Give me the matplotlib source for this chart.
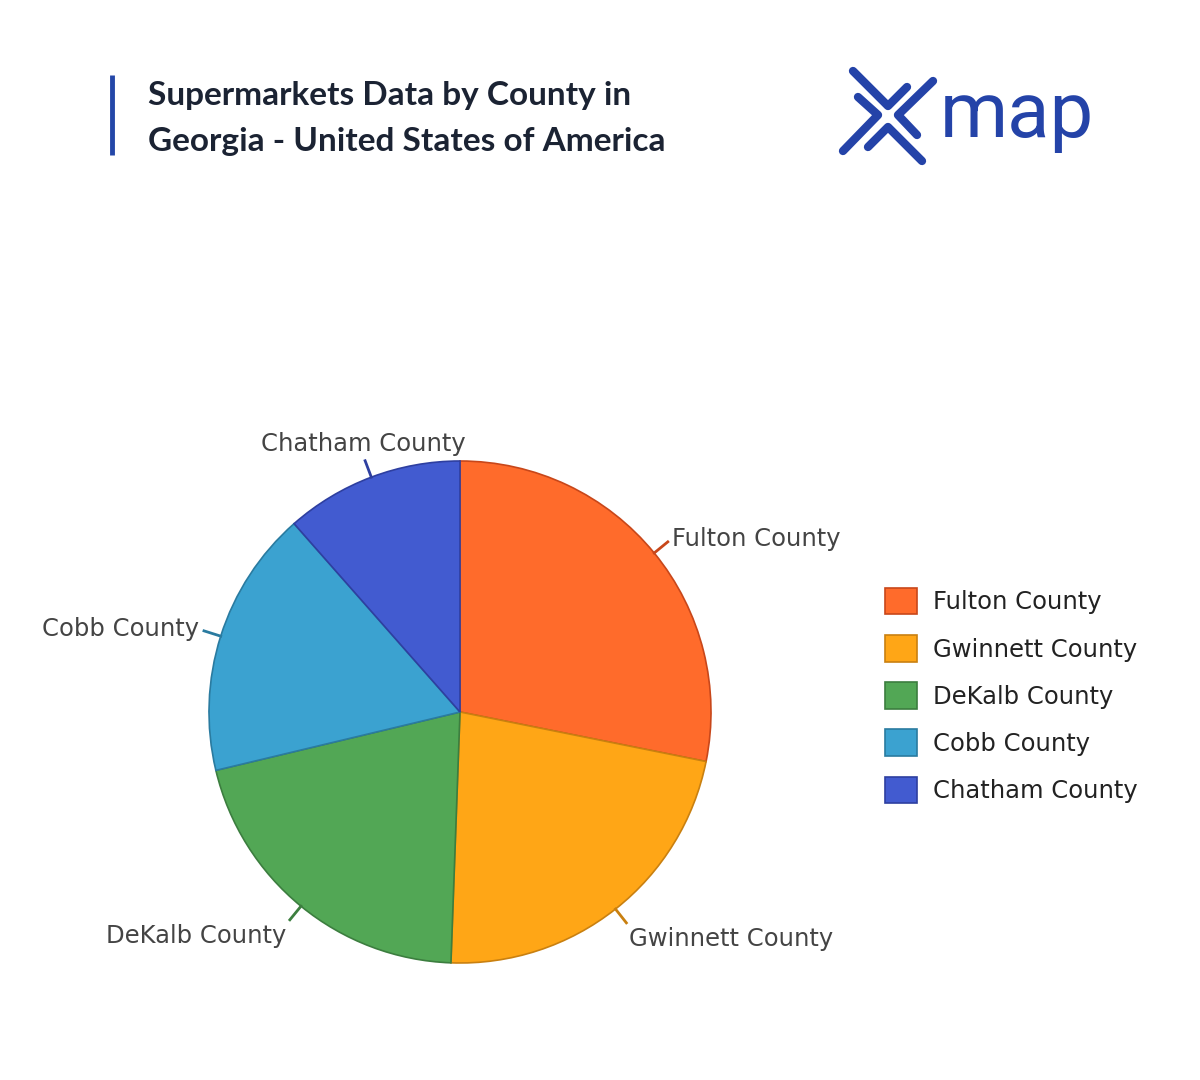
import numpy as np
import matplotlib
matplotlib.use("Agg")
import matplotlib.pyplot as plt
from matplotlib.patches import Patch

# data
counties = ["Fulton County", "Gwinnett County", "DeKalb County", "Cobb County", "Chatham County"]
supermarkets = [49, 39, 36, 30, 20]
colors = ["#FF6B2B", "#FFA616", "#52A755", "#3BA2D0", "#425BD0"]
edges = ["#C8471A", "#C98010", "#3C7E3F", "#2A7BA0", "#2E3FA0"]

title_lines = ["Supermarkets Data by County in", "Georgia - United States of America"]

W, H = 1200, 1080
fig = plt.figure(figsize=(W / 100, H / 100), dpi=100)
fig.patch.set_facecolor("white")

# pie axes: centre (460, 712) px, radius 251 px
cx, cy, r = 460, 712, 251
ax = fig.add_axes([(cx - r) / W, (H - cy - r) / H, 2 * r / W, 2 * r / H])

wedges, _ = ax.pie(supermarkets, colors=colors, startangle=90, counterclock=False,
                   radius=1, wedgeprops=dict(linewidth=1.2))
ax.set_xlim(-1, 1)
ax.set_ylim(-1, 1)
ax.axis("off")
for w, ec in zip(wedges, edges):
    w.set_edgecolor(ec)
    w.set_clip_on(False)

# outside labels with short tick lines
for w, name, ec in zip(wedges, counties, edges):
    ang = np.deg2rad((w.theta1 + w.theta2) / 2)
    c, s = np.cos(ang), np.sin(ang)
    ax.plot([c * 1.0, c * 1.07], [s * 1.0, s * 1.07], color=ec, lw=2, clip_on=False)
    ha = "left" if c > 0.4 else ("right" if c < -0.4 else "center")
    va = "bottom" if s > 0.7 else ("top" if s < -0.35 else "center")
    ax.text(c * 1.09, s * 1.09, name, ha=ha, va=va, fontsize=17.5,
            color="#444444", family="DejaVu Sans")

# legend
handles = [Patch(facecolor=fc, edgecolor=ec, linewidth=1.2) for fc, ec in zip(colors, edges)]
fig.legend(handles, counties, loc="upper left", bbox_to_anchor=(885 / W, 1 - 588 / H),
           frameon=False, fontsize=17.5, handlelength=1.3, handleheight=1.3,
           labelspacing=0.85, handletextpad=0.66, borderpad=0, borderaxespad=0,
           labelcolor="#222222")

# header: accent bar, title, logo
ov = fig.add_axes([0, 0, 1, 1], zorder=5)
ov.set_xlim(0, W)
ov.set_ylim(H, 0)
ov.axis("off")
ov.plot([112, 112], [75, 155], color="#2447A8", lw=3.5, solid_capstyle="butt")
for i, line in enumerate(title_lines):
    ov.text(148, 105 + 46 * i, line, fontsize=24, fontweight="bold", family="Lato",
            color="#1B2333", ha="left", va="baseline")

logo = "#2443A8"
strokes = [
    [(853, 71), (888, 106), (907, 87)],
    [(933, 81), (898, 115), (917, 135)],
    [(858, 97), (878, 115), (843, 151)],
    [(868, 147), (888, 127), (922, 161)],
]
for st in strokes:
    xs, ys = zip(*st)
    ov.plot(xs, ys, color=logo, lw=6, solid_capstyle="round", solid_joinstyle="round")
ov.text(940, 137, "map", fontsize=56, family="Roboto", fontweight="normal",
        color=logo, ha="left", va="baseline")

fig.savefig("out.png", dpi=100, facecolor="white")
